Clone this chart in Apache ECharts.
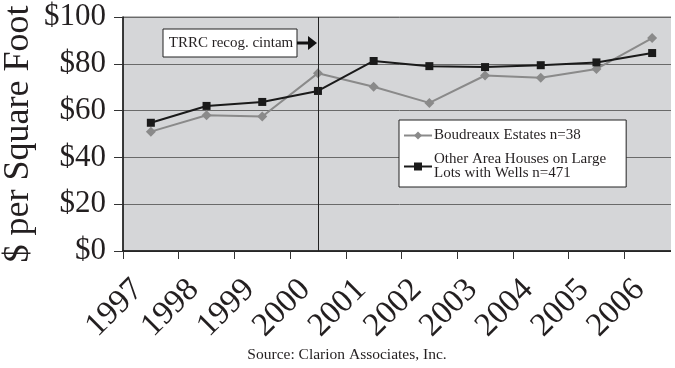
<!DOCTYPE html>
<html>
<head>
<meta charset="utf-8">
<script src="https://cdn.jsdelivr.net/npm/echarts@6/dist/echarts.min.js"></script>
<style>
html,body{margin:0;padding:0;background:#fff;}
#c{width:675px;height:368px;}
</style>
</head>
<body>
<div id="c"></div>
<script>
var years = ['1997','1998','1999','2000','2001','2002','2003','2004','2005','2006'];
var boudreaux = [51, 58, 57.5, 76, 70.2, 63.3, 75, 74, 77.8, 91];
var otherHouses = [54.8, 62, 63.7, 68.4, 81.2, 79, 78.6, 79.4, 80.6, 84.6];
var yTicks = [0, 20, 40, 60, 80, 100];
var markerYear = '2000';
var annotationText = 'TRRC recog. cintam';
var sourceText = 'Source: Clarion Associates, Inc.';
var seriesNames = ['Boudreaux Estates n=38', 'Other Area Houses on Large\nLots with Wells n=471'];

var FONT = '"Liberation Serif", "Times New Roman", serif';
var TXT = '#231f20';
var chart = echarts.init(document.getElementById('c'), null, {renderer:'canvas'});
chart.setOption({
  animation: false,
  backgroundColor: '#fff',
  grid: {left: 123, top: 17, right: -5, bottom: 117, containLabel: false, outerBoundsMode: 'none',
    show: true, backgroundColor: '#d5d6d8', borderColor: '#777', borderWidth: 1},
  title: {text: sourceText, left: 342, textAlign: 'center', top: 342,
    textStyle: {fontFamily: FONT, fontSize: 15.5, fontWeight: 'normal', color: TXT}},
  legend: {
    orient: 'vertical', left: 399, top: 120,
    backgroundColor: '#fff', borderColor: '#222', borderWidth: 1, borderRadius: 0,
    padding: [8, 20, 6, 4], itemGap: 9, itemWidth: 28, itemHeight: 10,
    textStyle: {fontFamily: FONT, fontSize: 15, color: TXT, lineHeight: 14, padding: [0, 0, 0, -3]},
    data: seriesNames
  },
  xAxis: {
    type: 'category', data: years, boundaryGap: true,
    axisLine: {lineStyle: {color: '#111', width: 1.5}},
    axisTick: {show: true, length: 8, interval: 0, lineStyle: {color: '#333'}},
    axisLabel: {rotate: 45, interval: 0, hideOverlap: false, margin: 21, padding: [0, 18, 0, 0], fontFamily: FONT, fontSize: 33, color: TXT},
    splitLine: {show: false}
  },
  yAxis: {
    type: 'value', min: yTicks[0], max: yTicks[yTicks.length-1], interval: 20,
    name: '$ per Square Foot', nameLocation: 'middle', nameGap: 86, nameMoveOverlap: false,
    nameTextStyle: {fontFamily: FONT, fontSize: 36, color: TXT},
    axisLine: {show: true, lineStyle: {color: '#111', width: 1.5}},
    axisTick: {show: true, length: 9, lineStyle: {color: '#333'}},
    axisLabel: {margin: 17, fontFamily: FONT, fontSize: 31, color: TXT, formatter: function(v){return '$' + v;}},
    splitLine: {show: true, lineStyle: {color: '#6a6a6a', width: 1}}
  },
  series: [
    {name: seriesNames[0], type: 'line', data: boudreaux, symbol: 'diamond', symbolSize: 10,
     lineStyle: {color: '#8a8a8a', width: 2}, itemStyle: {color: '#8a8a8a'}, z: 3,
     markLine: {silent: true, symbol: 'none', label: {show: false},
       lineStyle: {color: '#222', type: 'solid', width: 1}, data: [{xAxis: markerYear}]}},
    {name: seriesNames[1], type: 'line', data: otherHouses, symbol: 'rect', symbolSize: 8,
     lineStyle: {color: '#1a1a1a', width: 2}, itemStyle: {color: '#1a1a1a'}, z: 4}
  ],
  graphic: [
    {type: 'rect', shape: {x: 163, y: 29, width: 134, height: 28}, style: {fill: '#fff', stroke: '#222', lineWidth: 1}, z: 10},
    {type: 'text', x: 231, y: 43, style: {text: annotationText, fontFamily: FONT, fontSize: 15, fill: TXT, align: 'center', verticalAlign: 'middle'}, z: 11},
    {type: 'line', shape: {x1: 297, y1: 43, x2: 309, y2: 43}, style: {stroke: '#111', lineWidth: 3}, z: 10},
    {type: 'polygon', shape: {points: [[308, 36], [317, 43], [308, 50]]}, style: {fill: '#111'}, z: 10},
    {type: 'rect', shape: {x: 671, y: 0, width: 10, height: 262}, style: {fill: '#fff'}, z: 20}
  ]
});
</script>
</body>
</html>
